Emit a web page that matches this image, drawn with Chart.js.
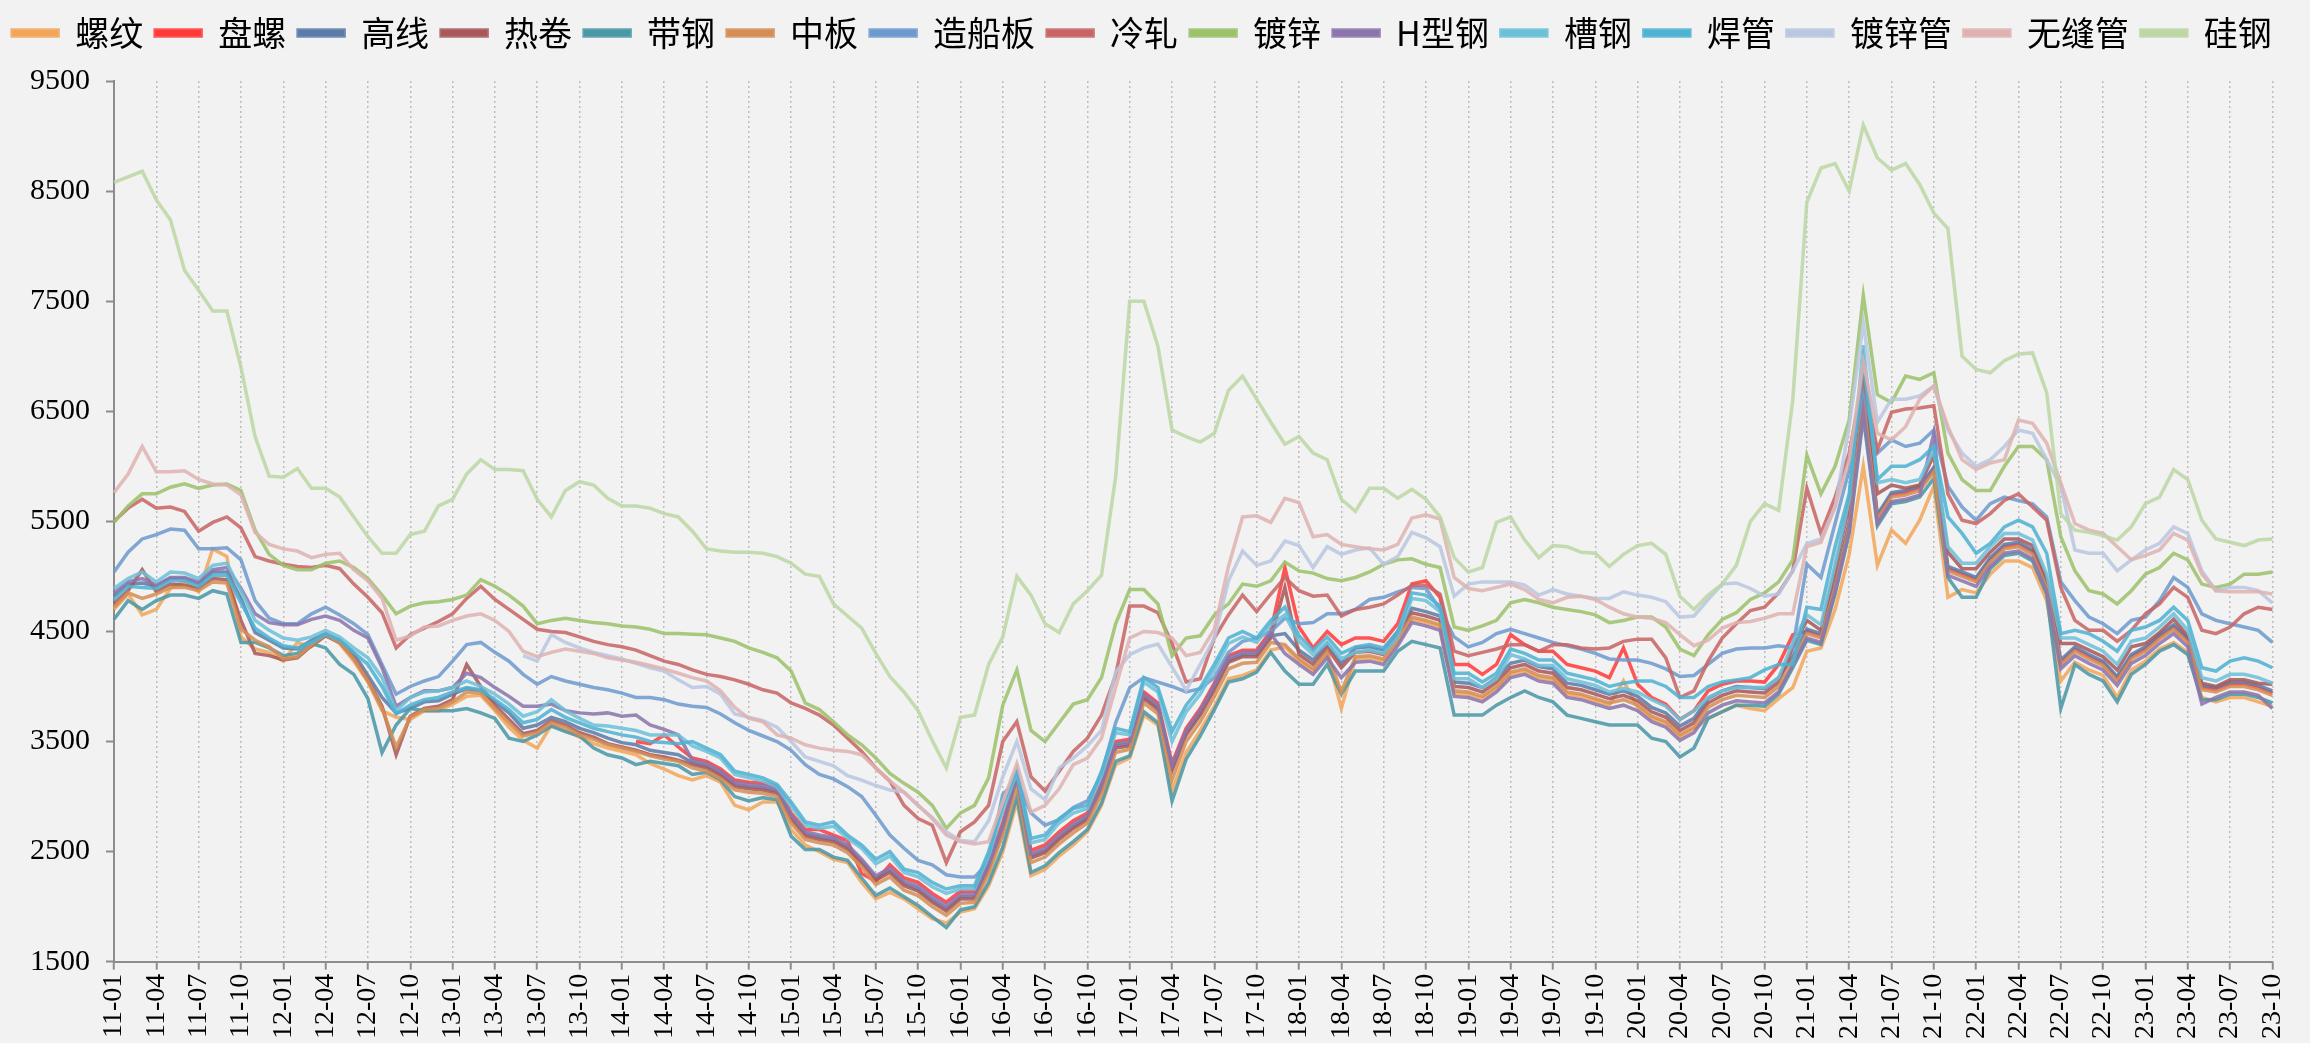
<!DOCTYPE html>
<html>
<head>
<meta charset="utf-8">
<script src="https://cdn.jsdelivr.net/npm/chart.js@4.4.1/dist/chart.umd.min.js"></script>
<style>
  html, body { margin: 0; padding: 0; background: #f2f2f2; }
  #wrap { width: 2310px; height: 1043px; }
</style>
</head>
<body>
<div id="wrap"><canvas id="steelChart" width="2310" height="1043"></canvas></div>
<script>
// months 2011-01 .. 2023-10, one point per month
const firstYear = 2011;
const monthCount = 154;
const quarterMonths = [1, 4, 7, 10];
const months = [];
for (let i = 0; i < monthCount; i++) {
  const y = firstYear + Math.floor(i / 12);
  const m = (i % 12) + 1;
  months.push(String(y).slice(2) + '-' + String(m).padStart(2, '0'));
}

const seriesNames = ['螺纹', '盘螺', '高线', '热卷', '带钢', '中板', '造船板', '冷轧', '镀锌', 'H型钢', '槽钢', '焊管', '镀锌管', '无缝管', '硅钢'];
const seriesColors = ['#F2A65A', '#FF3B3B', '#5B7BA8', '#A8585A', '#4A97A6', '#D48E55', '#6E99CF', '#C86464',
  '#9CC26A', '#8C74AC', '#6CC0D8', '#4FB2D2', '#B9C7E0', '#DFB2B2', '#BCD6A4'];

const yTicks = [1500, 2500, 3500, 4500, 5500, 6500, 7500, 8500, 9500];

// 螺纹
const rebar = [
  4700, 4840, 4650, 4700, 4890, 4950, 4860, 5250, 5180, 4450,
  4340, 4310, 4230, 4400, 4360, 4470, 4390, 4230, 4040, 3780, 3720, 3700, 3780, 3780, 3840, 3910, 3920, 3780, 3630, 3510, 3440, 3650, 3600, 3540, 3480, 3440, 3410, 3380, 3300, 3250, 3190,
  3150, 3190, 3130, 2920, 2880, 2950, 2950, 2700, 2560, 2500, 2430, 2400, 2220, 2070, 2130, 2070, 1980, 1890, 1850, 1950, 1980, 2190, 2500, 2950, 2280, 2340, 2460, 2560, 2680, 2920, 3290, 3350, 3740, 3650, 3050, 3400, 3600, 3820, 4070, 4100, 4150, 4330,
  4360, 4230, 4140, 4290, 3800, 4250, 4260, 4230, 4400, 4610, 4580, 4540, 3940, 3930, 3890, 3980, 4110, 4140, 4080, 4060, 3930, 3910, 3870, 3830, 4050, 3810, 3710, 3660, 3540, 3610, 3710, 3770, 3830, 3800, 3780, 3890,
  3990, 4320, 4350, 4700, 5200, 6000, 5100, 5420, 5300, 5510, 5820, 4810, 4880, 4850, 5020, 5140, 5140, 5080, 4780, 4050, 4220, 4150, 4100, 3900, 4150, 4230, 4340, 4400, 4310, 3900, 3860, 3900, 3900, 3860, 3820
];
// 盘螺
const coilRebar = [
  null, null, null, null, null, null, null, null, null, null,
  null, null, null, null, null, null, null, null, null, null, null, null, null, null, null, null, null, null, null, null, null, null, null, null, null, null, null, 3500, 3480, 3560, 3450,
  3350, 3320, 3250, 3150, 3130, 3120, 3090, 2850, 2700, 2700, 2650, 2600, 2300, 2230, 2380, 2260, 2220, 2120, 2040, 2140, 2140, 2410, 2760, 3210, 2510, 2560, 2680, 2780, 2850, 3120, 3500, 3520, 3950, 3850, 3300, 3620, 3800, 4030, 4280, 4330, 4330, 4500,
  5080, 4540, 4350, 4500, 4380, 4440, 4440, 4410, 4570, 4930, 4960, 4810, 4200, 4200, 4110, 4200, 4470, 4380, 4320, 4320, 4200, 4170, 4140, 4080, 4350, 4020, 3900, 3840, 3700, 3780, 3960, 4020, 4050, 4050, 4040, 4200,
  4470, 4500, 4460, 4920, 5470, 6650, 5540, 5740, 5760, 5800, 5970, 5070, 5020, 4970, 5150, 5270, 5290, 5220, 4920, 4220, 4340, 4270, 4210, 4070, 4270, 4340, 4450, 4540, 4420, 3990, 3970, 4020, 4020, 3990, 3940
];
// 高线
const wireRod = [
  4820, 4930, 4940, 4910, 4980, 4980, 4930, 5040, 5040, 4800,
  4490, 4420, 4350, 4340, 4420, 4480, 4420, 4300, 4100, 3900, 3760, 3800, 3860, 3870, 3930, 3980, 3960, 3860, 3760, 3620, 3650, 3720, 3680, 3620, 3580, 3530, 3490, 3470, 3420, 3400, 3380,
  3310, 3280, 3210, 3110, 3090, 3080, 3050, 2810, 2660, 2630, 2610, 2540, 2410, 2260, 2330, 2210, 2160, 2060, 1980, 2090, 2090, 2360, 2710, 3160, 2460, 2510, 2630, 2730, 2810, 3080, 3460, 3480, 3910, 3810, 3260, 3580, 3760, 3990, 4240, 4290, 4290, 4460,
  4480, 4330, 4240, 4390, 4210, 4350, 4360, 4330, 4500, 4710, 4680, 4640, 4040, 4030, 3990, 4080, 4210, 4240, 4180, 4160, 4030, 4010, 3970, 3930, 3960, 3910, 3810, 3760, 3640, 3710, 3890, 3960, 4000, 3990, 3980, 4080,
  4270, 4520, 4480, 4940, 5490, 6700, 5560, 5760, 5780, 5820, 5990, 5090, 5040, 4990, 5170, 5290, 5310, 5240, 4940, 4240, 4360, 4290, 4230, 4090, 4290, 4360, 4470, 4560, 4440, 4010, 3990, 4040, 4040, 4010, 3960
];
// 热卷
const hotRolled = [
  4750, 4870, 5060, 4860, 4930, 4920, 4890, 4980, 4970, 4600,
  4300, 4280, 4240, 4260, 4370, 4460, 4400, 4260, 4060, 3820, 3380, 3730, 3800, 3820, 3880, 4200, 4000, 3830, 3700, 3570, 3600, 3690, 3650, 3580, 3540, 3480, 3450, 3420, 3380, 3360, 3330,
  3290, 3260, 3190, 3090, 3070, 3060, 3030, 2790, 2640, 2610, 2590, 2520, 2390, 2240, 2310, 2190, 2140, 2040, 1960, 2070, 2070, 2340, 2690, 3200, 2440, 2490, 2610, 2710, 2790, 3060, 3440, 3460, 3890, 3790, 3240, 3560, 3740, 3970, 4220, 4270, 4270, 4440,
  4900, 4290, 4200, 4350, 4170, 4310, 4320, 4290, 4460, 4670, 4640, 4600, 4000, 3990, 3950, 4040, 4170, 4200, 4140, 4120, 3990, 3970, 3930, 3890, 3920, 3870, 3770, 3720, 3600, 3670, 3850, 3920, 3960, 3950, 3940, 4040,
  4350, 4600, 4510, 5060, 5650, 6900, 5750, 5830, 5800, 5830, 6100, 5220, 5070, 5070, 5220, 5340, 5340, 5280, 4970, 4390, 4390, 4330, 4270, 4150, 4360, 4390, 4490, 4610, 4460, 4030, 4000, 4060, 4060, 4030, 4020
];
// 带钢
const stripSteel = [
  4610, 4780, 4700, 4780, 4830, 4830, 4800, 4870, 4840, 4400,
  4400, 4350, 4280, 4300, 4390, 4350, 4200, 4110, 3890, 3400, 3650, 3800, 3780, 3780, 3780, 3800, 3760, 3710, 3530, 3500, 3560, 3640, 3590, 3550, 3440, 3380, 3350, 3290, 3320, 3300, 3280,
  3200, 3220, 3150, 3000, 2960, 2990, 2970, 2640, 2520, 2520, 2450, 2420, 2260, 2100, 2170, 2090, 2010, 1910, 1810, 1970, 2000, 2220, 2540, 3000, 2310, 2370, 2490, 2590, 2700, 2940, 3320, 3370, 3770, 3670, 2960, 3340, 3550, 3790, 4040, 4070, 4130, 4310,
  4140, 4020, 4020, 4200, 3930, 4140, 4140, 4140, 4320, 4410, 4380, 4350, 3740, 3740, 3740, 3830, 3900, 3960, 3900, 3860, 3740, 3710, 3680, 3650, 3650, 3650, 3530, 3500, 3360, 3440, 3710, 3770, 3830, 3830, 3820, 3930,
  4170, 4420, 4380, 4840, 5390, 6450, 5460, 5660, 5680, 5720, 5890, 4990, 4810, 4810, 5070, 5190, 5210, 5140, 4840, 3800, 4200, 4110, 4050, 3860, 4110, 4200, 4320, 4380, 4290, 3880, 3880, 3930, 3930, 3900, 3850
];
// 中板
const mediumPlate = [
  4720, 4850, 4800, 4840, 4900, 4900, 4870, 4950, 4940, 4520,
  4420, 4360, 4250, 4270, 4380, 4470, 4400, 4250, 4050, 3800, 3450, 3720, 3790, 3800, 3860, 3950, 3940, 3800, 3670, 3550, 3580, 3670, 3630, 3560, 3520, 3470, 3440, 3410, 3370, 3340, 3320,
  3260, 3230, 3160, 3060, 3040, 3030, 3000, 2760, 2610, 2580, 2560, 2490, 2360, 2200, 2270, 2150, 2100, 2000, 1920, 2030, 2040, 2300, 2650, 3100, 2400, 2450, 2570, 2670, 2760, 3020, 3400, 3430, 3850, 3750, 3150, 3500, 3680, 3910, 4160, 4210, 4220, 4400,
  4380, 4250, 4160, 4310, 3950, 4270, 4280, 4250, 4420, 4630, 4600, 4560, 3960, 3950, 3910, 4000, 4130, 4160, 4100, 4080, 3950, 3930, 3890, 3850, 3880, 3830, 3730, 3680, 3560, 3630, 3810, 3880, 3920, 3910, 3900, 4000,
  4230, 4480, 4440, 4900, 5450, 6600, 5520, 5720, 5740, 5780, 5950, 5050, 5000, 4950, 5130, 5250, 5270, 5200, 4900, 4200, 4320, 4250, 4190, 4050, 4250, 4320, 4430, 4520, 4400, 3970, 3950, 4000, 4000, 3970, 3920
];
// 造船板
const shipPlate = [
  5040, 5220, 5340, 5380, 5430, 5420, 5250, 5250, 5260, 5150, 4780, 4620, 4570, 4570, 4660, 4720, 4650, 4570, 4470, 4200,
  3930, 4000, 4050, 4090, 4230, 4380, 4400, 4310, 4230, 4110, 4020, 4090, 4050, 4020, 3990, 3970, 3940, 3900, 3900, 3880, 3840, 3820,
  3810, 3750, 3670, 3600, 3550, 3500, 3420, 3290, 3200, 3160, 3090, 3000, 2830, 2650, 2530, 2420, 2380, 2290, 2270, 2270, 2400, 3020, 3150, 2850, 2740, 2790, 2900, 2960, 3200, 3670, 3990, 4080, 4040, 4000, 3950, 3980, 4080,
  4310, 4410, 4440, 4500, 4620, 4570, 4580, 4660, 4660, 4700, 4790, 4810, 4860, 4900, 4890, 4700, 4450, 4360, 4400, 4480, 4520, 4480, 4440, 4400, 4370, 4340, 4300, 4250, 4240, 4240, 4210, 4160, 4090, 4100, 4200, 4300, 4340, 4350, 4350, 4370,
  4350, 5110, 4990, 5480, 5970, 6700, 6120, 6240, 6180, 6210, 6330, 5820, 5630, 5510, 5660, 5720, 5690, 5660, 5540, 4950, 4780, 4630, 4570, 4480, 4600, 4630, 4780, 4990, 4900, 4660, 4600, 4570, 4540, 4510, 4400
];
// 冷轧
const coldRolled = [
  5500, 5620, 5700, 5620, 5630, 5590, 5410, 5490, 5540, 5440, 5180, 5140, 5110, 5090, 5080, 5100, 5070, 4930, 4810, 4670,
  4350, 4470, 4530, 4590, 4660, 4800, 4910, 4790, 4700, 4610, 4520, 4500, 4490, 4450, 4410, 4380, 4360, 4330, 4280, 4230, 4200, 4150,
  4110, 4090, 4060, 4020, 3970, 3940, 3850, 3800, 3740, 3650, 3530, 3410, 3260, 3140, 2920, 2800, 2740, 2400, 2680, 2770, 2920, 3500, 3680, 3180, 3050, 3230, 3410, 3530, 3740, 4100, 4730, 4730, 4670, 4390, 4040, 4070, 4440,
  4650, 4830, 4680, 4840, 4990, 4870, 4820, 4830, 4640, 4700, 4720, 4750, 4830, 4920, 4920, 4840, 4320, 4280, 4310, 4340, 4380, 4380, 4320, 4380, 4380, 4350, 4340, 4350, 4410, 4430, 4430, 4260, 3900, 3960, 4230, 4440, 4570, 4690, 4720, 4850,
  5050, 5800, 5390, 5720, 6120, 6800, 6150, 6490, 6520, 6530, 6550, 5750, 5510, 5480, 5570, 5690, 5750, 5630, 5510, 4900, 4600, 4510, 4510, 4410, 4510, 4660, 4750, 4900, 4810, 4510, 4480, 4540, 4660, 4720, 4700
];
// 镀锌
const galvanized = [
  5490, 5640, 5750, 5750, 5810, 5840, 5800, 5830, 5840, 5780, 5420, 5200, 5100, 5060, 5060, 5120, 5140, 5080, 4980, 4830,
  4660, 4730, 4760, 4770, 4790, 4830, 4970, 4910, 4830, 4730, 4570, 4600, 4620, 4600, 4580, 4570, 4550, 4540, 4520, 4480,
  4480, 4475, 4470, 4440, 4410, 4350, 4310, 4260, 4140, 3850, 3790, 3680, 3560, 3470, 3350, 3210, 3120, 3040, 2920, 2710, 2850, 2920, 3170, 3830, 4150, 3600, 3500, 3670, 3840, 3880, 4080, 4570, 4880, 4880, 4750, 4280, 4440, 4460, 4650,
  4750, 4930, 4910, 4960, 5130, 5050, 5030, 4980, 4960, 4990, 5040, 5110, 5150, 5160, 5110, 5080, 4540, 4510, 4550, 4600, 4760, 4790, 4760, 4720, 4700, 4680, 4650, 4580, 4600, 4630, 4630, 4540, 4340, 4280, 4470, 4610, 4670, 4790, 4850, 4950,
  5150, 6100, 5750, 6000, 6420, 7550, 6650, 6580, 6820, 6790, 6850, 6120, 5880, 5780, 5780, 6000, 6180, 6180, 6060, 5360, 5050, 4870, 4840, 4750, 4870, 5020, 5080, 5210, 5150, 4930, 4900, 4930, 5020, 5020, 5040
];
// H型钢
const hBeam = [
  4850, 4950, 4980, 4920, 4990, 4990, 4950, 5060, 5080, 4890,
  4660, 4580, 4560, 4560, 4610, 4640, 4600, 4510, 4440, 4170, 3820, 3900, 3960, 3960, 3990, 4120, 4080, 3990, 3910, 3820, 3820, 3840, 3780, 3760, 3750, 3760, 3730, 3740, 3650, 3610, 3560,
  3330, 3300, 3230, 3130, 3110, 3100, 3070, 2830, 2680, 2650, 2630, 2560, 2430, 2280, 2350, 2230, 2190, 2090, 2010, 2110, 2110, 2380, 2730, 3180, 2480, 2530, 2650, 2750, 2830, 3100, 3480, 3500, 3930, 3830, 3280, 3600, 3780, 4010, 4260, 4310, 4310, 4480,
  4300, 4200, 4110, 4260, 4080, 4220, 4230, 4200, 4370, 4580, 4550, 4510, 3910, 3900, 3860, 3950, 4080, 4110, 4050, 4030, 3900, 3880, 3840, 3800, 3830, 3780, 3680, 3630, 3510, 3580, 3760, 3830, 3870, 3860, 3850, 3950,
  4190, 4440, 4400, 4860, 5410, 6500, 5480, 5680, 5700, 5740, 6300, 5010, 4960, 4910, 5090, 5210, 5230, 5160, 4860, 4160, 4280, 4210, 4150, 4010, 4210, 4280, 4390, 4480, 4360, 3840, 3900, 3950, 3950, 3920, 3800
];
// 槽钢
const channelSteel = [
  4890, 4980, 5040, 4950, 5040, 5030, 4980, 5100, 5120, 4870,
  4600, 4510, 4440, 4420, 4450, 4510, 4450, 4350, 4260, 4080, 3780, 3900, 3950, 3960, 3990, 4050, 4000, 3930, 3840, 3730, 3770, 3880, 3780, 3710, 3650, 3640, 3620, 3600, 3560, 3560, 3560,
  3460, 3410, 3350, 3200, 3170, 3140, 3090, 2910, 2740, 2710, 2730, 2620, 2530, 2390, 2460, 2310, 2270, 2180, 2120, 2160, 2160, 2460, 2870, 3220, 2580, 2610, 2760, 2850, 2890, 3190, 3580, 3560, 4040, 3950, 3500, 3770, 3930, 4150, 4390, 4450, 4400, 4560,
  4650, 4410, 4290, 4400, 4250, 4310, 4330, 4300, 4450, 4800, 4780, 4680, 4070, 4070, 3990, 4070, 4290, 4250, 4190, 4190, 4070, 4040, 4010, 3950, 3980, 3950, 3880, 3820, 3700, 3780, 3900, 3960, 3990, 3990, 3990, 4080,
  4400, 4650, 4560, 5110, 5700, 7100, 5850, 5880, 5850, 5880, 6150, 5270, 5120, 5120, 5270, 5390, 5390, 5330, 5020, 4440, 4440, 4380, 4320, 4200, 4410, 4440, 4540, 4660, 4510, 4080, 4050, 4110, 4110, 4080, 4030
];
// 焊管
const weldedPipe = [
  4790, 4910, 4900, 4890, 4960, 4960, 4910, 5010, 5010, 4760,
  4530, 4440, 4370, 4350, 4400, 4470, 4420, 4310, 4200, 4000, 3750, 3830, 3880, 3900, 3950, 3990, 3970, 3880, 3790, 3670, 3700, 3790, 3720, 3670, 3620, 3590, 3560, 3540, 3500, 3490, 3480,
  3500, 3440, 3380, 3230, 3200, 3170, 3110, 2950, 2770, 2740, 2770, 2650, 2560, 2430, 2500, 2340, 2310, 2220, 2160, 2190, 2190, 2500, 2920, 3250, 2620, 2650, 2800, 2890, 2920, 3230, 3620, 3590, 4080, 3990, 3590, 3830, 3990, 4200, 4440, 4500, 4440, 4600,
  4720, 4460, 4330, 4450, 4300, 4360, 4380, 4350, 4500, 4850, 4830, 4730, 4120, 4120, 4040, 4120, 4340, 4300, 4240, 4240, 4120, 4090, 4060, 4000, 4030, 4050, 4050, 4000, 3900, 3900, 4000, 4040, 4060, 4080, 4150, 4200,
  4200, 4720, 4700, 5270, 5750, 6950, 5880, 6000, 6000, 6060, 6180, 5540, 5390, 5210, 5300, 5450, 5510, 5450, 5210, 4480, 4510, 4480, 4410, 4320, 4510, 4540, 4600, 4720, 4600, 4170, 4140, 4230, 4260, 4230, 4170
];
// 镀锌管
const galvPipe = [
  null, null, null, null, null, null, null, null, null, null, null, null, null, null, null, null, null, null, null, null,
  null, null, null, null, null, null, null, null, null, 4280, 4230, 4470, 4400, 4350, 4310, 4280, 4250, 4210, 4170, 4140, 4060, 3990,
  4000, 3930, 3750, 3720, 3690, 3630, 3500, 3360, 3320, 3280, 3190, 3150, 3100, 3060, 3040, 2920, 2810, 2680, 2600, 2590, 2780, 3180, 3500, 3070, 2970, 3260, 3350, 3460, 3600, 4130, 4290, 4350, 4385, 4175, 3965, 4200, 4440,
  4960, 5230, 5100, 5140, 5320, 5280, 5080, 5270, 5200, 5240, 5260, 5110, 5180, 5400, 5350, 5270, 4820, 4930, 4950, 4950, 4950, 4920, 4830, 4880, 4840, 4820, 4800, 4800, 4860, 4830, 4810, 4770, 4630, 4640, 4790, 4930, 4940, 4890, 4820, 4840,
  5050, 5300, 5340, 5630, 6360, 7300, 6400, 6610, 6610, 6640, 6730, 6330, 6120, 6000, 6060, 6180, 6330, 6300, 6060, 5820, 5240, 5210, 5210, 5050, 5150, 5240, 5300, 5450, 5390, 5050, 4870, 4900, 4900, 4870, 4760
];
// 无缝管
const seamlessPipe = [
  5760, 5930, 6180, 5950, 5950, 5960, 5880, 5840, 5830, 5740, 5400, 5290, 5250, 5230, 5170, 5200, 5210, 5060, 4960, 4800,
  4420, 4460, 4540, 4550, 4600, 4640, 4660, 4600, 4500, 4320, 4270, 4310, 4340, 4320, 4300, 4260, 4240, 4220, 4190, 4160, 4120, 4080,
  4050, 3960, 3810, 3710, 3680, 3560, 3530, 3470, 3440, 3420, 3410, 3380, 3260, 3140, 3040, 2920, 2800, 2650, 2590, 2570, 2590, 2950, 3300, 2860, 2920, 3070, 3290, 3350, 3530, 3990, 4440, 4500, 4490, 4440, 4280, 4310, 4520,
  5090, 5540, 5550, 5490, 5710, 5670, 5360, 5380, 5290, 5270, 5250, 5240, 5290, 5530, 5560, 5520, 4990, 4890, 4870, 4900, 4930, 4880, 4790, 4760, 4810, 4820, 4790, 4720, 4660, 4630, 4620, 4580, 4470, 4370, 4420, 4530, 4580, 4590, 4620, 4660,
  4660, 5270, 5310, 5630, 6060, 6950, 6300, 6240, 6360, 6610, 6730, 6360, 6060, 5970, 6030, 6060, 6420, 6390, 6210, 5850, 5480, 5420, 5390, 5270, 5150, 5190, 5240, 5390, 5330, 5020, 4870, 4860, 4860, 4860, 4840
];
// 硅钢
const siliconSteel = [
  8580, 8630, 8680, 8420, 8240, 7780, 7600, 7410, 7410, 6900, 6270, 5910, 5900, 5980, 5800, 5800, 5720, 5540, 5360, 5210,
  5210, 5380, 5410, 5640, 5700, 5930, 6060, 5970, 5970, 5960, 5700, 5540, 5780, 5860, 5830, 5710, 5640, 5640, 5620, 5570,
  5540, 5410, 5250, 5230, 5220, 5220, 5210, 5180, 5120, 5020, 5000, 4750, 4640, 4530, 4300, 4090, 3950, 3780, 3510, 3260, 3720, 3740, 4200, 4450, 5000, 4830, 4570, 4490, 4750, 4870, 5010, 5900, 7500, 7500, 7090, 6330, 6270, 6220, 6300,
  6690, 6820, 6610, 6400, 6200, 6270, 6120, 6060, 5700, 5590, 5800, 5800, 5710, 5790, 5700, 5540, 5170, 5040, 5080, 5490, 5540, 5330, 5170, 5280, 5270, 5220, 5210, 5090, 5200, 5280, 5300, 5200, 4820, 4700, 4830, 4930, 5100, 5500, 5660, 5600,
  6600, 8400, 8710, 8750, 8500, 9100, 8800, 8690, 8750, 8560, 8300, 8160, 7000, 6880, 6850, 6960, 7020, 7030, 6670, 5570, 5420, 5400, 5370, 5330, 5450, 5660, 5720, 5970, 5880, 5510, 5340, 5310, 5280, 5330, 5340
];

const seriesValues = [rebar, coilRebar, wireRod, hotRolled, stripSteel, mediumPlate, shipPlate, coldRolled,
  galvanized, hBeam, channelSteel, weldedPipe, galvPipe, seamlessPipe, siliconSteel];

const isQuarter = (i) => quarterMonths.includes((i % 12) + 1);

const bgPlugin = {
  id: 'bg',
  beforeDraw(chart) {
    const c = chart.ctx;
    c.save();
    c.fillStyle = '#f2f2f2';
    c.fillRect(0, 0, chart.width, chart.height);
    c.restore();
  }
};

// extra gap between legend and plot
const legendGap = {
  id: 'legendGap',
  beforeInit(chart) {
    const origFit = chart.legend.fit;
    chart.legend.fit = function () {
      origFit.bind(chart.legend)();
      this.height += 21;
    };
  }
};

const datasets = seriesNames.map((name, i) => ({
  label: name,
  data: seriesValues[i],
  borderColor: seriesColors[i] + 'DD',
  backgroundColor: seriesColors[i],
  borderWidth: 3.5,
  pointRadius: 0,
  tension: 0,
  fill: false,
  spanGaps: false,
  order: seriesNames.length - i   // later series drawn on top, like the original
}));

new Chart(document.getElementById('steelChart'), {
  type: 'line',
  data: { labels: months, datasets },
  plugins: [bgPlugin, legendGap],
  options: {
    responsive: false,
    devicePixelRatio: 1,
    animation: false,
    layout: { padding: { left: 0, right: 26, top: 4, bottom: 0 } },
    plugins: {
      legend: {
        position: 'top',
        labels: {
          sort: (a, b) => a.datasetIndex - b.datasetIndex,
          boxWidth: 46,
          boxHeight: 6,
          padding: 12,
          color: '#000',
          font: { size: 34, family: '"Noto Sans CJK SC", "Noto Sans", sans-serif' }
        }
      },
      tooltip: { enabled: false }
    },
    scales: {
      x: {
        type: 'category',
        offset: false,
        border: { display: true, color: '#8c8c8c', width: 2, dash: [2, 3] },
        grid: {
          drawOnChartArea: true,
          color: (ctx) => isQuarter(ctx.index) ? '#bdbdbd' : 'rgba(0,0,0,0)',
          lineWidth: 1.5,
          tickColor: (ctx) => isQuarter(ctx.index) ? '#8c8c8c' : 'rgba(0,0,0,0)',
          tickLength: 8,
          tickWidth: 2,
          tickBorderDash: []
        },
        ticks: {
          autoSkip: false,
          minRotation: 90,
          maxRotation: 90,
          padding: 4,
          color: '#000',
          font: { size: 28, family: '"Liberation Serif", "Times New Roman", serif' },
          callback: (value, index) => isQuarter(index) ? months[index] : ''
        }
      },
      y: {
        min: 1500,
        max: 9500,
        border: { display: true, color: '#8c8c8c', width: 2 },
        grid: { drawOnChartArea: false, drawTicks: true, tickLength: 8, tickColor: '#8c8c8c', tickWidth: 2 },
        afterBuildTicks: (scale) => { scale.ticks = yTicks.map(v => ({ value: v })); },
        afterFit: (scale) => { scale.width = 114; },
        ticks: {
          padding: 16,
          color: '#000',
          font: { size: 30, family: '"Liberation Serif", "Times New Roman", serif' },
          callback: (value) => String(value)
        }
      }
    }
  }
});
</script>
</body>
</html>
